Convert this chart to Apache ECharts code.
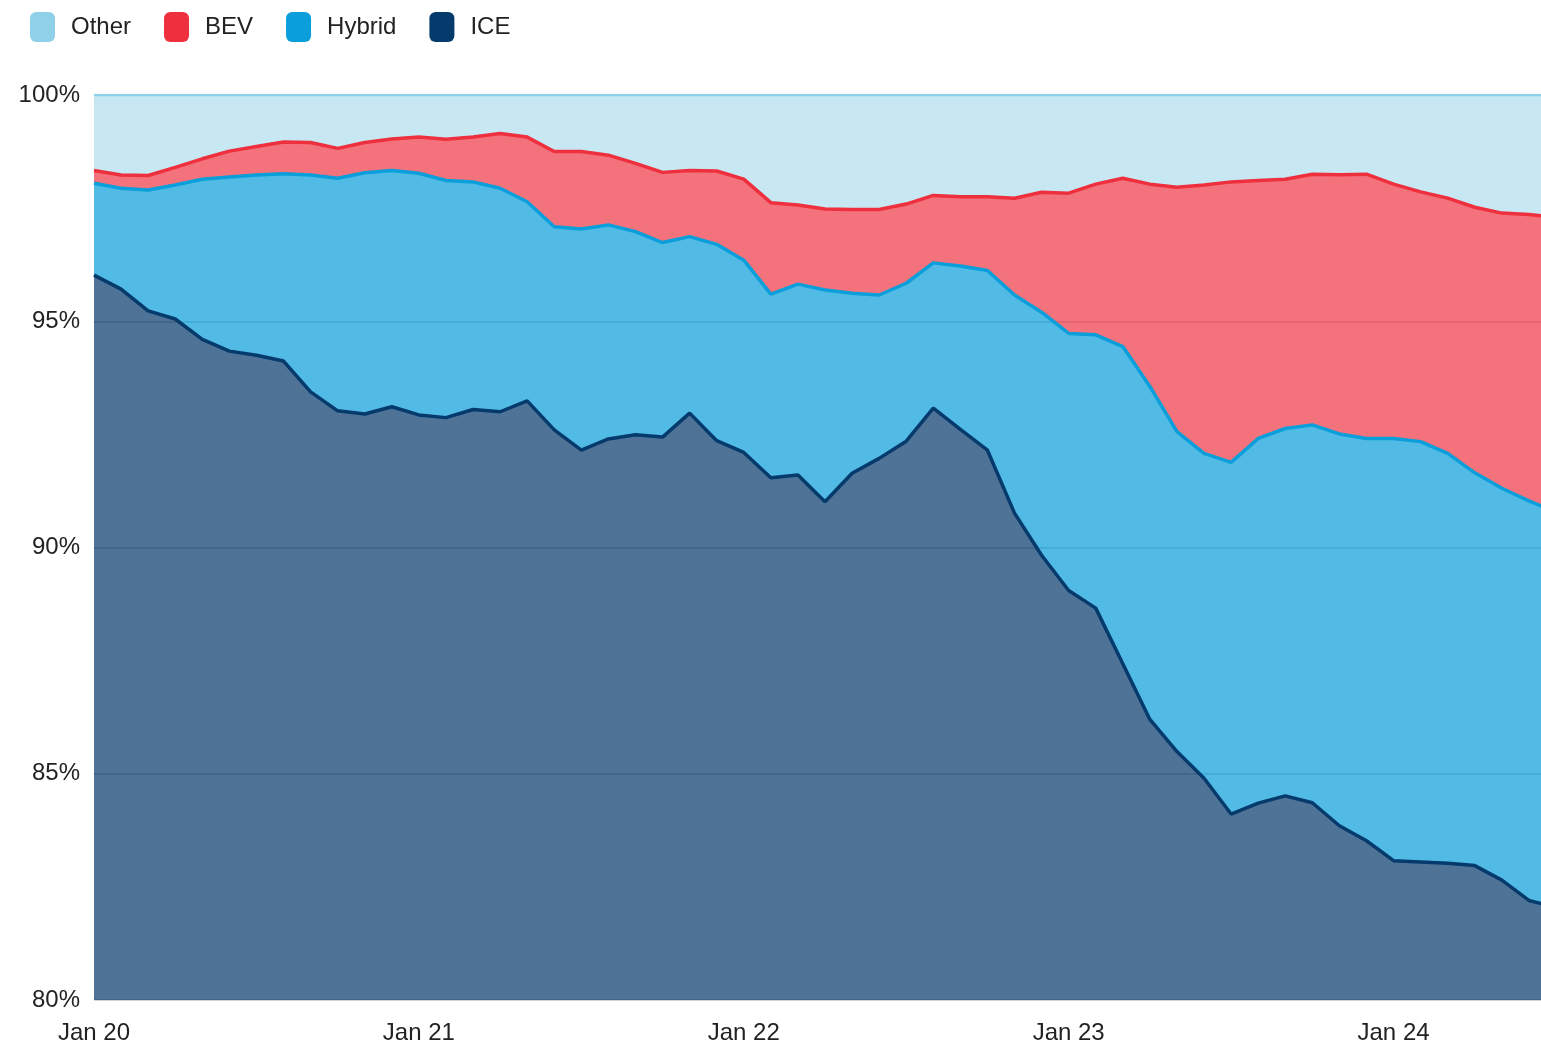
<!DOCTYPE html>
<html>
<head>
<meta charset="utf-8">
<script src="https://cdn.jsdelivr.net/npm/echarts@6/dist/echarts.min.js"></script>
<style>
  html, body { margin: 0; padding: 0; background: #fff; }
  #chart { width: 1541px; height: 1049px; }
</style>
</head>
<body>
<div id="chart"></div>
<script>
// monthly market share (%), Jan 2020 .. Jul 2024 (last point sits just past the right edge)
const months = ['Jan', 'Feb', 'Mar', 'Apr', 'May', 'Jun', 'Jul', 'Aug', 'Sep', 'Oct', 'Nov', 'Dec']
const years = ['20', '21', '22', '23', '24']
const categories = []
years.forEach((y) => months.forEach((m) => categories.push(`${m} ${y}`)))
categories.length = 55

const iceShare = [
  96.02, 95.71, 95.23, 95.05, 94.60, 94.34, 94.25, 94.12, 93.44, 93.02, 92.95, 93.11,
  92.93, 92.87, 93.05, 93.00, 93.24, 92.60, 92.15, 92.40, 92.49, 92.44, 92.97, 92.36,
  92.10, 91.54, 91.60, 91.01, 91.64, 91.97, 92.35, 93.08, 92.61, 92.15, 90.76, 89.83,
  89.05, 88.66, 87.43, 86.20, 85.49, 84.90, 84.11, 84.35, 84.51, 84.36, 83.85, 83.52,
  83.08, 83.05, 83.02, 82.97, 82.65, 82.20, 82.05,
]
const hybridShare = [
  2.03, 2.23, 2.67, 2.96, 3.54, 3.85, 3.98, 4.14, 4.79, 5.14, 5.33, 5.22,
  5.34, 5.24, 5.03, 4.94, 4.40, 4.49, 4.89, 4.73, 4.49, 4.30, 3.90, 4.34,
  4.25, 4.06, 4.22, 4.68, 3.98, 3.61, 3.49, 3.21, 3.61, 3.97, 4.82, 5.37,
  5.68, 6.04, 7.01, 7.36, 7.07, 7.18, 7.77, 8.06, 8.12, 8.35, 8.66, 8.89,
  9.33, 9.29, 9.06, 8.68, 8.66, 8.83, 8.73,
]
const bevShare = [
  0.28, 0.29, 0.32, 0.39, 0.45, 0.57, 0.63, 0.70, 0.72, 0.66, 0.67, 0.70,
  0.80, 0.91, 0.99, 1.21, 1.43, 1.66, 1.71, 1.54, 1.51, 1.55, 1.46, 1.62,
  1.79, 2.02, 1.75, 1.79, 1.85, 1.89, 1.75, 1.49, 1.53, 1.63, 2.14, 2.65,
  3.10, 3.33, 3.72, 4.47, 5.40, 5.93, 6.20, 5.70, 5.51, 5.54, 5.73, 5.84,
  5.62, 5.52, 5.64, 5.87, 6.08, 6.33, 6.52,
]
const otherShare = [
  1.67, 1.77, 1.78, 1.60, 1.41, 1.24, 1.14, 1.04, 1.05, 1.18, 1.05, 0.97,
  0.93, 0.98, 0.93, 0.85, 0.93, 1.25, 1.25, 1.33, 1.51, 1.71, 1.67, 1.68,
  1.86, 2.38, 2.43, 2.52, 2.53, 2.53, 2.41, 2.22, 2.25, 2.25, 2.28, 2.15,
  2.17, 1.97, 1.84, 1.97, 2.04, 1.99, 1.92, 1.89, 1.86, 1.75, 1.76, 1.75,
  1.97, 2.14, 2.28, 2.48, 2.61, 2.64, 2.70,
]
const yTicks = [80, 85, 90, 95, 100]

const FONT = "'Liberation Sans', Arial, sans-serif"
const COLORS = {
  Other: '#8fd1e8',
  BEV: '#ee2f3d',
  Hybrid: '#0a9fdb',
  ICE: '#053a6c',
}

const series = [
  { name: 'ICE', data: iceShare, lineWidth: 3.5, opacity: 0.71 },
  { name: 'Hybrid', data: hybridShare, lineWidth: 3.5, opacity: 0.71 },
  { name: 'BEV', data: bevShare, lineWidth: 3.5, opacity: 0.68 },
  { name: 'Other', data: otherShare, lineWidth: 2.5, opacity: 0.5 },
].map((s) => ({
  name: s.name,
  type: 'line',
  stack: 'share',
  data: s.data,
  symbol: 'none',
  color: COLORS[s.name],
  lineStyle: { color: COLORS[s.name], width: s.lineWidth },
  areaStyle: { color: COLORS[s.name], opacity: s.opacity },
}))

const chart = echarts.init(document.getElementById('chart'))
chart.setOption({
  animation: false,
  backgroundColor: '#fff',
  legend: {
    data: ['Other', 'BEV', 'Hybrid', 'ICE'],
    left: 25,
    top: 7,
    icon: 'roundRect',
    itemWidth: 25,
    itemHeight: 30,
    itemGap: 33,
    itemStyle: { opacity: 1 },
    textStyle: { fontFamily: FONT, fontSize: 24, color: '#222', padding: [0, 0, 0, 11] },
  },
  grid: { left: 94, right: -15, top: 95, bottom: 49, outerBoundsMode: 'none', containLabel: false },
  xAxis: {
    type: 'category',
    data: categories,
    boundaryGap: false,
    axisLine: { show: false },
    axisTick: { show: false },
    axisLabel: {
      interval: (i) => i % 12 === 0,
      margin: 21,
      color: '#222',
      fontFamily: FONT,
      fontSize: 24,
    },
  },
  yAxis: {
    type: 'value',
    min: yTicks[0],
    max: yTicks[yTicks.length - 1],
    interval: 5,
    axisLine: { show: false },
    axisTick: { show: false },
    axisLabel: {
      margin: 14,
      color: '#222',
      fontFamily: FONT,
      fontSize: 24,
      formatter: (v) => `${v}%`,
    },
    splitLine: { lineStyle: { color: '#c4c4c4', width: 1.5 } },
  },
  series,
})
</script>
</body>
</html>
